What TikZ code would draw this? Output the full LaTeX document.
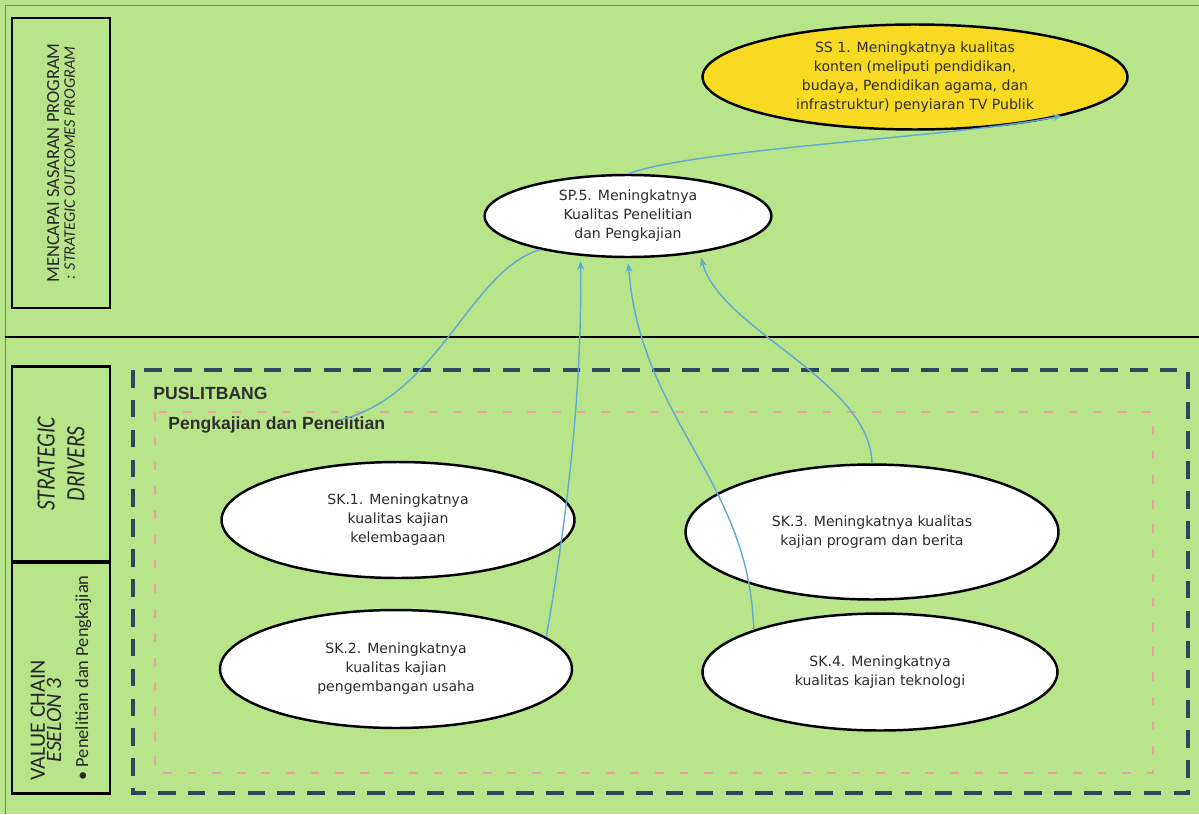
\documentclass[tikz,border=0pt]{standalone}
\usepackage{fontspec}
\setmainfont{DejaVu Sans}
\newfontfamily\calibfont{Carlito}
\newfontfamily\narrowfont[FakeStretch=0.82]{Carlito}
\newfontfamily\headfont{Liberation Sans}
\usetikzlibrary{shapes.geometric,arrows.meta}
\definecolor{bggreen}{RGB}{184,229,138}
\definecolor{sunyellow}{RGB}{248,218,34}
\definecolor{linkblue}{RGB}{95,168,212}
\definecolor{dashblue}{RGB}{44,70,92}
\definecolor{dashpink}{RGB}{236,160,160}
\definecolor{inkgrey}{RGB}{45,45,45}
\tikzset{
  goal/.style={ellipse, draw=black, line width=1.4pt, fill=white, align=center,
    text=inkgrey, inner sep=0pt, font=\fontsize{8}{10.8}\selectfont},
  sidebox/.style={draw=black, line width=1.3pt, rotate=90, align=center,
    minimum height=1.96cm, inner sep=1pt, text=black!85},
  link/.style={linkblue, line width=0.8pt},
  linkarrow/.style={link, -{Stealth[length=5pt,width=4pt]}, shorten >=3pt},
}
\begin{document}
\begin{tikzpicture}[x=0.02cm, y=-0.02cm]
    \useasboundingbox (0,0) rectangle (1199,814);
    \fill[bggreen] (0,0) rectangle (1199,814);
    \draw[gray, thin] (5,814)--(5,5)--(1199,5);
    \draw[line width=1.4pt] (5,337)--(1199,337);
    %
    \node[sidebox, minimum width=5.8cm, font=\calibfont\fontsize{10.5}{9}\selectfont] (outcome) at (61,163)
        {MENCAPAI SASARAN PROGRAM\\
         \itshape\fontsize{9.2}{9}\selectfont : STRATEGIC OUTCOMES PROGRAM};
    \node[sidebox, minimum width=3.9cm, font=\narrowfont\itshape\fontsize{15}{17}\selectfont] (drivers) at (61,464)
        {STRATEGIC\\ DRIVERS};
    \node[sidebox, minimum width=4.62cm, align=left, font=\calibfont\fontsize{12.5}{10.5}\selectfont] (chain) at (61,678)
        {\begin{tabular}{@{}c@{}}VALUE CHAIN\\[-2pt] \itshape ESELON 3\end{tabular}\\[4pt]
         \fontsize{10.5}{11}\selectfont\textbullet\ Penelitian dan Pengkajian};
    %
    \draw[dashblue, line width=2.4pt, dash pattern=on 10pt off 7pt] (133,370) rectangle (1188,793);
    \draw[dashpink, line width=0.6pt, dash pattern=on 5pt off 9pt] (155,412) rectangle (1153,773);
    \node[anchor=west, inner sep=0pt, text=inkgrey, font=\headfont\bfseries\fontsize{10}{12}\selectfont]
        (puslitbang) at (153,393) {PUSLITBANG};
    \node[anchor=west, inner sep=0pt, text=inkgrey, font=\headfont\bfseries\fontsize{10}{12}\selectfont]
        (bidang) at (168,425) {Pengkajian dan Penelitian};
    %
    \node[goal, fill=sunyellow, minimum width=8.5cm, minimum height=2.1cm] (ss1) at (915,77)
        {SS 1. Meningkatnya kualitas\\ konten (meliputi pendidikan,\\ budaya, Pendidikan agama, dan\\ infrastruktur) penyiaran TV Publik};
    \node[goal, minimum width=5.74cm, minimum height=1.64cm] (sp5) at (628,216)
        {SP.5. Meningkatnya\\ Kualitas Penelitian\\ dan Pengkajian};
    \node[goal, minimum width=7.06cm, minimum height=2.32cm] (sk1) at (398,520)
        {SK.1. Meningkatnya\\ kualitas kajian\\ kelembagaan};
    \node[goal, minimum width=7.04cm, minimum height=2.36cm] (sk2) at (396,669)
        {SK.2. Meningkatnya\\ kualitas kajian\\ pengembangan usaha};
    \node[goal, minimum width=7.46cm, minimum height=2.7cm] (sk3) at (872,532)
        {SK.3. Meningkatnya kualitas\\ kajian program dan berita};
    \node[goal, minimum width=7.1cm, minimum height=2.34cm] (sk4) at (880,672)
        {SK.4. Meningkatnya\\ kualitas kajian teknologi};
    %
    \coordinate (bidangtop) at (340,420);
    \draw[linkarrow] (sp5.north) .. controls (700,148) and (950,138) .. (ss1.-14);
    \draw[link] (bidangtop) .. controls (440,395) and (470,270) .. (sp5.201);
    \draw[linkarrow] (sk2.12) .. controls (570,500) and (582,380) .. (sp5.220);
    \draw[linkarrow] (sk4.north west) .. controls (750,480) and (640,420) .. (sp5.south);
    \draw[linkarrow] (sk3.north) .. controls (870,380) and (720,330) .. (sp5.-27);
\end{tikzpicture}
\end{document}
